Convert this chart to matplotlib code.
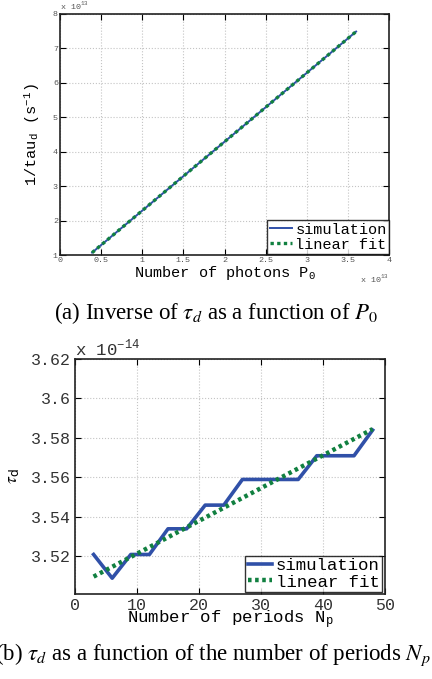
#! /usr/bin/env python3

import matplotlib
matplotlib.use('Agg')
import matplotlib.pyplot as plt

# (a) inverse of tau_d versus number of photons (units of 1e13)
photons = [0.39, 0.8, 1.2, 1.6, 2.0, 2.4, 2.8, 3.2, 3.6]
inv_tau_sim = [1.07, 1.89, 2.69, 3.49, 4.29, 5.09, 5.89, 6.69, 7.49]
photons_fit = [0.39, 3.6]
inv_tau_fit = [1.07, 7.49]

# (b) tau_d versus number of periods (units of 1e-14)
periods = [3, 6, 9, 12, 15, 18, 21, 24, 27, 30, 33, 36, 39, 42, 45, 48]
tau_sim = [3.521, 3.509, 3.521, 3.521, 3.534, 3.534, 3.546, 3.546,
           3.559, 3.559, 3.559, 3.559, 3.571, 3.571, 3.571, 3.584]
periods_fit = [3, 48]
tau_fit = [3.5098, 3.5845]

BLUE = '#3050a8'
GREEN = '#118040'
MONO = 'Liberation Mono'

plt.rcParams['mathtext.fontset'] = 'stix'


def style_axes(ax, tick_size, tick_color):
    ax.grid(True, linestyle=':', color='#c4c4c4', linewidth=0.8)
    ax.tick_params(direction='in', top=True, right=True, labelsize=tick_size,
                   labelcolor=tick_color, length=4, width=0.8)
    for lab in ax.get_xticklabels() + ax.get_yticklabels():
        lab.set_family(MONO)
    for s in ax.spines.values():
        s.set_linewidth(1.2)
        s.set_color('#222222')


def main():
    fig = plt.figure(figsize=(4.32, 6.79), dpi=100)

    # ---- top panel ----
    ax1 = fig.add_axes([0.1389, 0.6244, 0.7616, 0.3550])
    ax1.plot(photons, inv_tau_sim, color=BLUE, lw=1.4, label='simulation')
    ax1.plot(photons_fit, inv_tau_fit, color=GREEN, lw=2.4,
             linestyle=(0, (1, 1)), label='linear fit')
    ax1.set_xlim(0, 4)
    ax1.set_ylim(1, 8)
    ax1.set_xticks([0, 0.5, 1, 1.5, 2, 2.5, 3, 3.5, 4])
    ax1.set_xticklabels(['0', '0.5', '1', '1.5', '2', '2.5', '3', '3.5', '4'])
    ax1.set_yticks(range(1, 9))
    style_axes(ax1, 6, '#555555')
    ax1.tick_params(pad=1.5)
    ax1.set_xlabel(r'Number of photons P$_\mathregular{0}$', family=MONO,
                   fontsize=11, labelpad=0)
    ax1.set_ylabel(r'1/tau$_\mathregular{d}$ (s$^\mathregular{-1}$)',
                   family=MONO, fontsize=11, labelpad=8)
    ax1.text(0.0, 1.01, r'x 10$^\mathregular{13}$', transform=ax1.transAxes,
             family=MONO, fontsize=6, color='#555555', va='bottom')
    ax1.text(1.0, -0.075, r'x 10$^\mathregular{13}$', transform=ax1.transAxes,
             family=MONO, fontsize=6, color='#555555', ha='right', va='top')
    leg1 = ax1.legend(loc='lower right', bbox_to_anchor=(1.0, 0.005),
                      prop={'family': MONO, 'size': 11}, frameon=True,
                      fancybox=False, borderpad=0.15, labelspacing=0.05,
                      handlelength=1.5, handletextpad=0.2, borderaxespad=0)
    leg1.get_frame().set_edgecolor('black')
    leg1.get_frame().set_linewidth(1.0)

    fig.text(0.5, 1 - 313 / 679, r'(a) Inverse of $\tau_d$ as a function of $P_0$',
             family='Liberation Serif', fontsize=16.5, ha='center', va='center')

    # ---- bottom panel ----
    ax2 = fig.add_axes([0.1736, 0.1252, 0.7176, 0.3461])
    ax2.plot(periods, tau_sim, color=BLUE, lw=2.6, label='simulation')
    ax2.plot(periods_fit, tau_fit, color=GREEN, lw=3.2,
             linestyle=(0, (0.8, 0.8)), label='linear fit')
    ax2.set_xlim(0, 50)
    ax2.set_ylim(3.501, 3.62)
    ax2.set_xticks([0, 10, 20, 30, 40, 50])
    ax2.set_yticks([3.52, 3.54, 3.56, 3.58, 3.6, 3.62])
    ax2.set_yticklabels(['3.52', '3.54', '3.56', '3.58', '3.6', '3.62'])
    style_axes(ax2, 12, '#333333')
    ax2.tick_params(pad=3)
    ax2.set_xlabel(r'Number of periods N$_\mathregular{p}$', family=MONO,
                   fontsize=12.5, labelpad=-3)
    ax2.set_ylabel(r'$\tau_\mathregular{d}$', fontsize=12.5, labelpad=6)
    ax2.text(0.0, 1.0, r'x 10$^\mathregular{-14}$', transform=ax2.transAxes,
             family=MONO, fontsize=12.5, color='#333333', va='bottom')
    leg2 = ax2.legend(loc='lower right', bbox_to_anchor=(0.99, 0.008),
                      prop={'family': MONO, 'size': 12.5}, frameon=True,
                      fancybox=False, borderpad=0.15, labelspacing=0.05,
                      handlelength=1.4, handletextpad=0.2, borderaxespad=0)
    leg2.get_frame().set_edgecolor('black')
    leg2.get_frame().set_linewidth(1.0)

    fig.text(431 / 432, 1 - 655 / 679,
             r'(b) $\tau_d$ as a function of the number of periods $N_p$',
             family='Liberation Serif', fontsize=16.5, ha='right', va='center')

    fig.savefig('out.png', dpi=100)


if __name__ == "__main__":
    main()
